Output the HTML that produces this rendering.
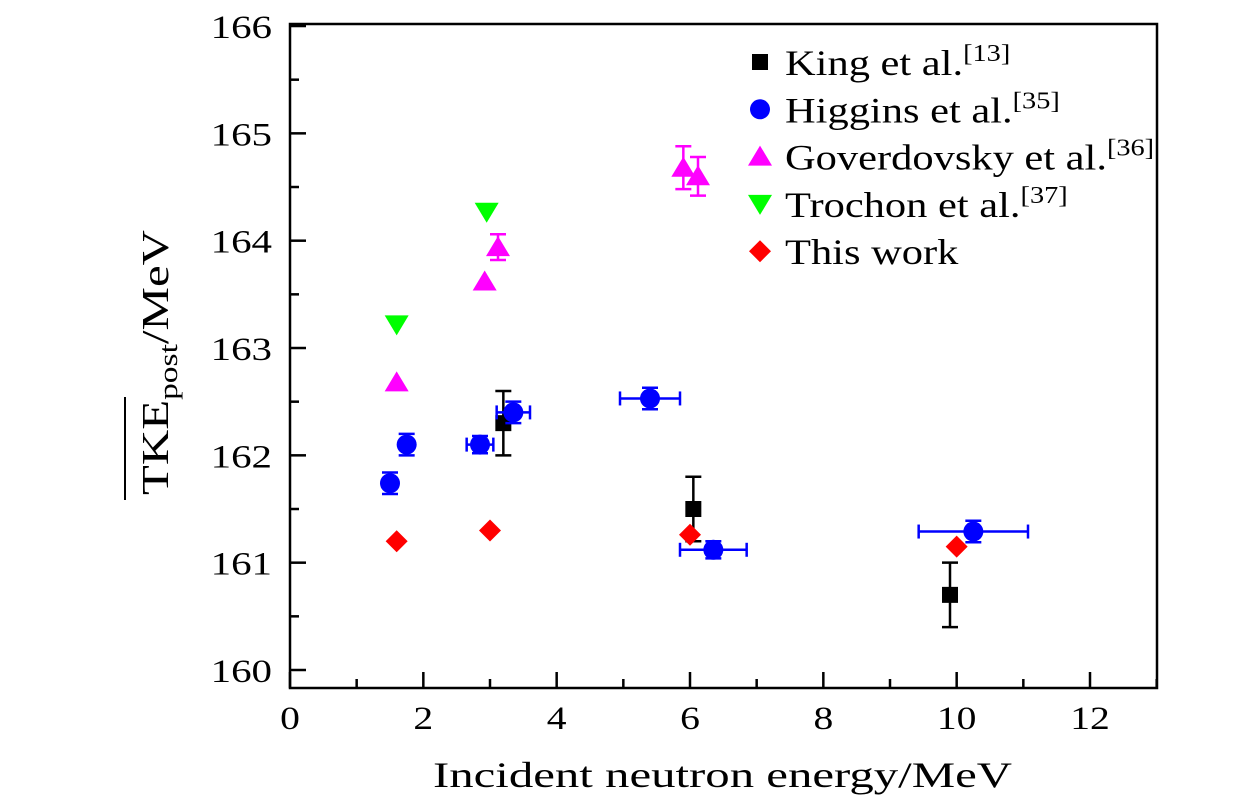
<!DOCTYPE html>
<html><head><meta charset="utf-8"><style>
body{margin:0;background:#fff}
svg text{font-family:"Liberation Serif",serif;fill:#000}
</style></head><body>
<svg id="chart" width="1260" height="804" xmlns="http://www.w3.org/2000/svg">
<rect x="290" y="24" width="867" height="664" fill="none" stroke="#000" stroke-width="2.5"/>
<g id="axes"></g>
<g id="marks"></g>
<text x="433" y="787" font-size="36" textLength="579" lengthAdjust="spacingAndGlyphs">Incident neutron energy/MeV</text>
<g transform="translate(168,495) rotate(-90)">
<text x="0" y="0" font-size="38" textLength="265" lengthAdjust="spacingAndGlyphs">TKE<tspan font-size="26" dy="9">post</tspan><tspan dy="-9">/MeV</tspan></text>
<line x1="-5" y1="-43" x2="98" y2="-43" stroke="#000" stroke-width="2"/>
</g>
<g id="legend"></g>
</svg>
<script>
const xTicks=[0,2,4,6,8,10,12];
const yTicks=[160,161,162,163,164,165,166];
const kingX=[3.2,6.05,9.9], kingY=[162.3,161.5,160.7], kingE=[0.3,0.3,0.3];
const higX=[1.5,1.75,2.85,3.35,5.4,6.35,10.25], higY=[161.74,162.1,162.1,162.4,162.53,161.12,161.29];
const higYE=[0.1,0.1,0.08,0.1,0.1,0.08,0.1], higXE=[0.05,0.05,0.2,0.25,0.45,0.5,0.82];
const govX=[1.6,2.92,3.12,5.9,6.12], govY=[162.68,163.62,163.94,164.68,164.6], govE=[0,0,0.12,0.2,0.18];
const troX=[1.6,2.95], troY=[163.22,164.27];
const thisX=[1.6,3.0,6.0,10.0], thisY=[161.2,161.3,161.26,161.15];
const legendLabels=[["King et al.","[13]"],["Higgins et al.","[35]"],["Goverdovsky et al.","[36]"],["Trochon et al.","[37]"],["This work",""]];
const NS="http://www.w3.org/2000/svg";
const sx=v=>290+v*66.667, sy=v=>670-(v-160)*107.33;
function mk(tag,at,parent){const e=document.createElementNS(NS,tag);for(const k in at)e.setAttribute(k,at[k]);parent.appendChild(e);return e;}
const axes=document.getElementById('axes'), marks=document.getElementById('marks'), leg=document.getElementById('legend');
for(let v=0;v<=13;v+=1){const major=v%2===0;const l=mk('line',{x1:sx(v),x2:sx(v),y1:688,y2:688-(major?16:9),stroke:'#000','stroke-width':2.5},axes);

}
xTicks.forEach(v=>{const g=mk('g',{transform:`translate(${sx(v)},729) scale(1.2,1)`},axes);const t=mk('text',{x:0,y:0,'font-size':33,'text-anchor':'middle'},g);t.textContent=v;

});
for(let v=160;v<=166.01;v+=0.5){const major=Math.abs(v-Math.round(v))<0.01;const l=mk('line',{x1:290,x2:290+(major?16:9),y1:sy(v),y2:sy(v),stroke:'#000','stroke-width':2.5},axes);

}
yTicks.forEach(v=>{const g=mk('g',{transform:`translate(272,${sy(v)+12}) scale(1.24,1)`},axes);const t=mk('text',{x:0,y:0,'font-size':33,'text-anchor':'end'},g);t.textContent=v;

});
function vErr(x,y,e,c){if(!e)return;const g=mk('g',{stroke:c,'stroke-width':2.5},marks);
mk('line',{x1:sx(x),x2:sx(x),y1:sy(y-e),y2:sy(y+e)},g);
mk('line',{x1:sx(x)-8,x2:sx(x)+8,y1:sy(y-e),y2:sy(y-e)},g);
mk('line',{x1:sx(x)-8,x2:sx(x)+8,y1:sy(y+e),y2:sy(y+e)},g);

}
function hErr(x,y,e,c){if(!e)return;const g=mk('g',{stroke:c,'stroke-width':2.5},marks);
mk('line',{x1:sx(x-e),x2:sx(x+e),y1:sy(y),y2:sy(y)},g);
mk('line',{x1:sx(x-e),x2:sx(x-e),y1:sy(y)-7,y2:sy(y)+7},g);
mk('line',{x1:sx(x+e),x2:sx(x+e),y1:sy(y)-7,y2:sy(y)+7},g);

}
function marker(type,px,py,parent){let e;
if(type==='sq')e=mk('rect',{x:px-8,y:py-8,width:16,height:16,fill:'#000'},parent);
if(type==='ci')e=mk('circle',{cx:px,cy:py,r:10,fill:'#0000ff'},parent);
if(type==='up')e=mk('polygon',{points:`${px},${py-11} ${px+12},${py+9} ${px-12},${py+9}`,fill:'#ff00ff'},parent);
if(type==='dn')e=mk('polygon',{points:`${px-12},${py-9} ${px+12},${py-9} ${px},${py+11}`,fill:'#00ff00'},parent);
if(type==='di')e=mk('polygon',{points:`${px},${py-11} ${px+11},${py} ${px},${py+11} ${px-11},${py}`,fill:'#ff0000'},parent);
return e;}
kingX.forEach((x,i)=>{vErr(x,kingY[i],kingE[i],'#000');const m=marker('sq',sx(x),sy(kingY[i]),marks);

});
higX.forEach((x,i)=>{vErr(x,higY[i],higYE[i],'#0000ff');hErr(x,higY[i],higXE[i],'#0000ff');const m=marker('ci',sx(x),sy(higY[i]),marks);

});
govX.forEach((x,i)=>{vErr(x,govY[i],govE[i],'#ff00ff');const m=marker('up',sx(x),sy(govY[i]),marks);

});
troX.forEach((x,i)=>{const m=marker('dn',sx(x),sy(troY[i]),marks);

});
thisX.forEach((x,i)=>{const m=marker('di',sx(x),sy(thisY[i]),marks);

});
const types=['sq','ci','up','dn','di'];
legendLabels.forEach((l,i)=>{const y=62+i*47.3;const m=marker(types[i],760,y,leg);


const g=mk('g',{transform:`translate(785,${y+13}) scale(1.18,1)`},leg);
const t=mk('text',{x:0,y:0,'font-size':36},g);t.textContent=l[0];
if(l[1]){const s=mk('tspan',{'font-size':24,dy:-14},t);s.textContent=l[1];}

});
</script>
</body></html>
